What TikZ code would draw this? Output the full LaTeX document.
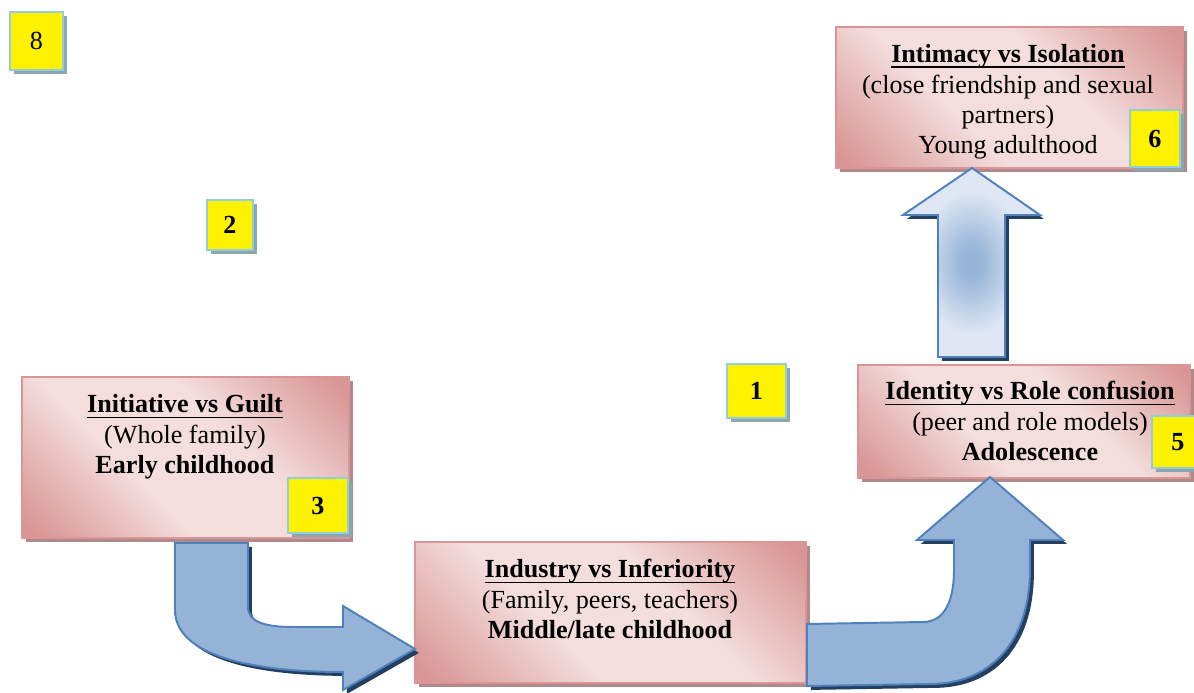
\documentclass[tikz,border=0pt]{standalone}
\usepackage{fontspec}
\setmainfont{Liberation Serif}
\usetikzlibrary{fit,shadows}

% palette
\definecolor{pinkdark}{RGB}{217,150,148}
\definecolor{pinklight}{RGB}{243,222,221}
\definecolor{pinkedge}{RGB}{218,150,150}
\definecolor{pinkshadow}{RGB}{176,138,138}
\definecolor{tagedge}{RGB}{146,205,220}
\definecolor{tagshadow}{RGB}{140,165,174}
\definecolor{arrowfill}{RGB}{149,179,215}
\definecolor{arrowpale}{RGB}{222,231,243}
\definecolor{arrowedge}{RGB}{79,129,189}
\definecolor{arrowshadow}{RGB}{36,63,96}

% diagonal band: dark corners, light middle
\pgfdeclarehorizontalshading{pinkband}{100bp}{color(0bp)=(pinkdark); color(17bp)=(pinkdark); color(40bp)=(pinklight); color(60bp)=(pinklight); color(83bp)=(pinkdark); color(100bp)=(pinkdark)}
% glow for the upward arrow
\pgfdeclareradialshading{arrowglow}{\pgfpoint{0bp}{0bp}}{color(0bp)=(arrowfill); color(5bp)=(arrowfill!90!arrowpale); color(19bp)=(arrowpale); color(50bp)=(arrowpale)}

% underline at a fixed depth below the baseline
\newsavebox\ulinebox
\newcommand\stageul[1]{\sbox\ulinebox{#1}\rlap{\rule[-2.6pt]{\wd\ulinebox}{0.8pt}}\usebox\ulinebox}

\begin{document}
\begin{tikzpicture}[x=0.46pt,y=-0.46pt,
  stagebox/.style={draw=pinkedge, line width=0.9pt, shade, shading=pinkband, shading angle=45,
    inner sep=0pt, drop shadow={shadow xshift=1.9pt, shadow yshift=-1.9pt, fill=pinkshadow, opacity=1}},
  stagetext/.style={align=center, inner sep=0pt, font=\fontsize{12}{14}\selectfont},
  numbox/.style={draw=tagedge, line width=1.1pt, fill=yellow, inner sep=0pt,
    drop shadow={shadow xshift=1.9pt, shadow yshift=-1.9pt, fill=tagshadow, opacity=1},
    font=\fontsize{12}{14}\selectfont\bfseries},
  blockarrow/.style={draw=arrowedge, line width=0.9pt, fill=arrowfill, line join=miter,
    preaction={fill=arrowshadow, transform canvas={xshift=1.8pt, yshift=-1.8pt}}}]

\useasboundingbox (0,0) rectangle (1194,693);
\fill[white] (0,0) rectangle (1194,693);
\clip (0,0) rectangle (1194,693);

% stage boxes
\node[stagebox, fit={(22,377) (349,538)}] (initiative) {};
\node[stagebox, fit={(415,542) (806,683)}] (industry) {};
\node[stagebox, fit={(858,365) (1190,478)}] (identity) {};
\node[stagebox, fit={(836,27) (1183,168)}] (intimacy) {};

% stage texts
\node[stagetext] (initiativetext) at (185,437)
  {\textbf{\stageul{Initiative vs Guilt}}\\(Whole family)\\\textbf{Early childhood}};
\node[stagetext] (industrytext) at (610,599)
  {\textbf{\stageul{Industry vs Inferiority}}\\(Family, peers, teachers)\\\textbf{Middle/late childhood}};
\node[stagetext] (identitytext) at (1030,421)
  {\textbf{\stageul{Identity vs Role confusion}}\\(peer and role models)\\\textbf{Adolescence}};
\node[stagetext] (intimacytext) at (1008,102)
  {\textbf{\stageul{Intimacy vs Isolation}}\\(close friendship and sexual\\partners)\\Young adulthood};

% bent arrow: early childhood -> middle/late childhood
\draw[blockarrow] (175,543) -- (175,610)
  .. controls (175,655) and (250,672) .. (343,672)
  -- (343,690) -- (415,649) -- (343,606) -- (343,627) -- (293,627)
  .. controls (265,627) and (248,622) .. (248,607) -- (248,543) -- cycle;

% bent arrow: middle/late childhood -> adolescence
\draw[blockarrow] (807,624) -- (923,622)
  .. controls (945,622) and (954,600) .. (954,570)
  -- (954,540) -- (917,540) -- (990,477) -- (1063,540) -- (1030,540) -- (1030,568)
  .. controls (1030,645) and (988,684) .. (930,684) -- (807,686) -- cycle;

% straight arrow: adolescence -> young adulthood
\draw[blockarrow, shade, shading=arrowglow] (938,357) -- (938,215) -- (903,215)
  -- (972,168) -- (1040,215) -- (1005,215) -- (1005,357) -- cycle;

% numbered tags
\node[numbox, minimum width=24.4pt, minimum height=26.7pt, font=\fontsize{12}{14}\selectfont] (tag8) at (36.5,41) {8};
\node[numbox, minimum width=21.2pt, minimum height=23pt] (tag2) at (230,225) {2};
\node[numbox, minimum width=27.1pt, minimum height=24.8pt] (tag1) at (756.5,391) {1};
\node[numbox, minimum width=27.6pt, minimum height=25.3pt] (tag3) at (318,505.5) {3};
\node[numbox, minimum width=24pt, minimum height=24pt] (tag5) at (1178,442) {5};
\node[numbox, minimum width=23pt, minimum height=26.2pt] (tag6) at (1155,138.5) {6};
\end{tikzpicture}
\end{document}
